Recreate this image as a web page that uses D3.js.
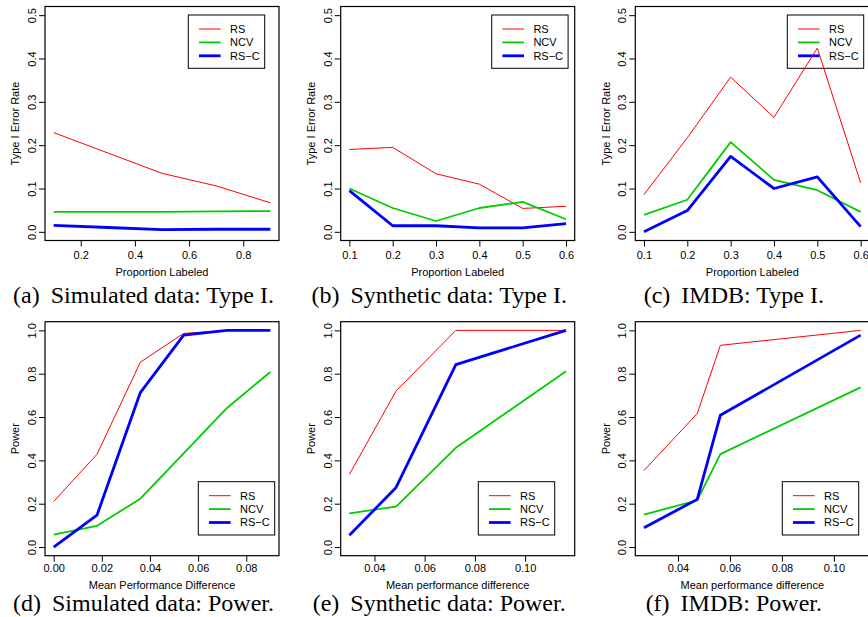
<!DOCTYPE html>
<html>
<head>
<meta charset="utf-8">
<script src="https://cdn.jsdelivr.net/npm/d3@7"></script>
<style>
  html, body { margin: 0; padding: 0; background: #fff; }
  svg { display: block; }
  text { font-family: "Liberation Sans", Arial, Helvetica, sans-serif; fill: #000; }
  .cap { font-family: "Liberation Serif", "Times New Roman", serif; }
</style>
</head>
<body>
<svg id="chart" width="868" height="617"></svg>
<script>
// ---------------- DATA ----------------
const seriesNames = ["RS", "NCV", "RS\u2212C"];

// (a) Simulated data: Type I
const aX   = [0.1, 0.3, 0.5, 0.7, 0.9];
const aRS  = [0.229, 0.182, 0.135, 0.106, 0.067];
const aNCV = [0.046, 0.046, 0.046, 0.047, 0.048];
const aRSC = [0.015, 0.010, 0.005, 0.006, 0.006];
const aTicks = [0.2, 0.4, 0.6, 0.8];

// (b) Synthetic data: Type I
const bX   = [0.1, 0.2, 0.3, 0.4, 0.5, 0.6];
const bRS  = [0.190, 0.195, 0.134, 0.110, 0.054, 0.059];
const bNCV = [0.100, 0.055, 0.025, 0.055, 0.069, 0.029];
const bRSC = [0.095, 0.014, 0.014, 0.009, 0.009, 0.019];
const bTicks = [0.1, 0.2, 0.3, 0.4, 0.5, 0.6];

// (c) IMDB: Type I
const cX   = [0.1, 0.2, 0.3, 0.4, 0.5, 0.6];
const cRS  = [0.086, 0.217, 0.357, 0.264, 0.424, 0.113];
const cNCV = [0.039, 0.074, 0.207, 0.120, 0.096, 0.046];
const cRSC = [0.000, 0.049, 0.174, 0.100, 0.127, 0.012];
const cTicks = [0.1, 0.2, 0.3, 0.4, 0.5, 0.6];

// (d) Simulated data: Power
const dX   = [0, 0.018, 0.036, 0.054, 0.072, 0.09];
const dRS  = [0.210, 0.428, 0.853, 0.986, 1.0, 1.0];
const dNCV = [0.057, 0.098, 0.223, 0.432, 0.642, 0.808];
const dRSC = [0.000, 0.147, 0.713, 0.978, 1.0, 1.0];
const dTicks = [0.00, 0.02, 0.04, 0.06, 0.08];

// (e) Synthetic data: Power
const eX   = [0.0300, 0.0486, 0.0724, 0.1163];
const eRS  = [0.335, 0.720, 1.0, 1.0];
const eNCV = [0.155, 0.187, 0.458, 0.811];
const eRSC = [0.054, 0.275, 0.842, 1.0];
const eTicks = [0.04, 0.06, 0.08, 0.10];

// (f) IMDB: Power
const fX   = [0.0269, 0.0474, 0.0563, 0.1103];
const fRS  = [0.353, 0.616, 0.931, 1.0];
const fNCV = [0.150, 0.215, 0.429, 0.737];
const fRSC = [0.089, 0.220, 0.608, 0.978];
const fTicks = [0.04, 0.06, 0.08, 0.10];

const typeIYTicks = [0.0, 0.1, 0.2, 0.3, 0.4, 0.5];
const powerYTicks = [0.0, 0.2, 0.4, 0.6, 0.8, 1.0];

// ---------------- LAYOUT / STYLE ----------------
const colors = ["#FF0000", "#00CD00", "#0000FF"];
const widths = [1, 1.8, 2.8];
const BOX = 234;

const panels = [
  { x: aX, ys: [aRS, aNCV, aRSC], xt: aTicks, yt: typeIYTicks, fmtX: d3.format(".1f"), yMax: 0.5,
    xl: "Proportion Labeled", yl: "Type I Error Rate", tag: "(a)", cap: "Simulated data: Type I.",
    left: 45, top: 6.5, legX: 143.3, legY: 8.5, row: 0 },
  { x: bX, ys: [bRS, bNCV, bRSC], xt: bTicks, yt: typeIYTicks, fmtX: d3.format(".1f"), yMax: 0.5,
    xl: "Proportion Labeled", yl: "Type I Error Rate", tag: "(b)", cap: "Synthetic data: Type I.",
    left: 340.7, top: 6.5, legX: 151, legY: 8.5, row: 0 },
  { x: cX, ys: [cRS, cNCV, cRSC], xt: cTicks, yt: typeIYTicks, fmtX: d3.format(".1f"), yMax: 0.5,
    xl: "Proportion Labeled", yl: "Type I Error Rate", tag: "(c)", cap: "IMDB: Type I.",
    left: 635.3, top: 6.5, legX: 152, legY: 8.5, row: 0 },
  { x: dX, ys: [dRS, dNCV, dRSC], xt: dTicks, yt: powerYTicks, fmtX: d3.format(".2f"), yMax: 1.0,
    xl: "Mean Performance Difference", yl: "Power", tag: "(d)", cap: "Simulated data: Power.",
    left: 45, top: 321.7, legX: 153.3, legY: 160, row: 1 },
  { x: eX, ys: [eRS, eNCV, eRSC], xt: eTicks, yt: powerYTicks, fmtX: d3.format(".2f"), yMax: 1.0,
    xl: "Mean performance difference", yl: "Power", tag: "(e)", cap: "Synthetic data: Power.",
    left: 340.7, top: 321.7, legX: 137.6, legY: 160, row: 1 },
  { x: fX, ys: [fRS, fNCV, fRSC], xt: fTicks, yt: powerYTicks, fmtX: d3.format(".2f"), yMax: 1.0,
    xl: "Mean performance difference", yl: "Power", tag: "(f)", cap: "IMDB: Power.",
    left: 635.3, top: 321.7, legX: 147, legY: 160, row: 1 }
];

const rowText = [
  { tick: 15, title: 31.7, capBase: 302.5 },
  { tick: 12.8, title: 29.3, capBase: 611 }
];

const svg = d3.select("#chart");

panels.forEach(p => {
  const g = svg.append("g").attr("transform", `translate(${p.left},${p.top})`);
  const [x0, x1] = d3.extent(p.x);
  const xp = (x1 - x0) * 0.04;
  const x = d3.scaleLinear().domain([x0 - xp, x1 + xp]).range([0, BOX]);
  const yp = p.yMax * 0.04;
  const y = d3.scaleLinear().domain([-yp, p.yMax + yp]).range([BOX, 0]);
  const rt = rowText[p.row];

  // legend (transparent background, drawn first so lines may cross it as in R output)
  const lg = g.append("g").attr("transform", `translate(${p.legX},${p.legY})`);
  lg.append("rect").attr("width", 76.4).attr("height", 53.3)
    .attr("fill", "none").attr("stroke", "#000").attr("stroke-width", 1);
  seriesNames.forEach((nm, i) => {
    const yy = 14 + i * 13.4;
    lg.append("line").attr("x1", 10.7).attr("x2", 32.3).attr("y1", yy).attr("y2", yy)
      .attr("stroke", colors[i]).attr("stroke-width", widths[i]);
    lg.append("text").attr("x", 41.7).attr("y", yy).attr("dy", "0.36em")
      .style("font-size", "11px").text(nm);
  });

  // x axis
  const xAxis = d3.axisBottom(x).tickValues(p.xt).tickFormat(p.fmtX).tickSize(6).tickSizeOuter(0);
  const gx = g.append("g").attr("transform", `translate(0,${BOX})`).call(xAxis);
  gx.select(".domain").remove();
  gx.selectAll(".tick line").attr("stroke", "#000").attr("stroke-width", 1);
  gx.selectAll(".tick text").attr("y", rt.tick).attr("dy", "0.35em")
    .style("font-size", "11px").attr("font-family", null);

  // y axis (rotated labels as in R)
  const yAxis = d3.axisLeft(y).tickValues(p.yt).tickFormat(d3.format(".1f")).tickSize(6).tickSizeOuter(0);
  const gy = g.append("g").call(yAxis);
  gy.select(".domain").remove();
  gy.selectAll(".tick line").attr("stroke", "#000").attr("stroke-width", 1);
  gy.selectAll(".tick text")
    .attr("x", null)
    .attr("text-anchor", "middle")
    .attr("transform", "translate(-12.7,0) rotate(-90)")
    .attr("dy", "0.35em")
    .style("font-size", "11px").attr("font-family", null);

  // lines
  const line = d3.line().x(d => x(d[0])).y(d => y(d[1]));
  p.ys.forEach((vals, i) => {
    g.append("path")
      .datum(p.x.map((xv, k) => [xv, vals[k]]))
      .attr("fill", "none")
      .attr("stroke", colors[i])
      .attr("stroke-width", widths[i])
      .attr("stroke-linejoin", "round")
      .attr("d", line);
  });

  // box
  g.append("rect").attr("x", 0).attr("y", 0).attr("width", BOX).attr("height", BOX)
    .attr("fill", "none").attr("stroke", "#000").attr("stroke-width", 1.2);

  // axis titles
  g.append("text").attr("x", BOX / 2).attr("y", BOX + rt.title).attr("dy", "0.35em")
    .attr("text-anchor", "middle").style("font-size", "11px").text(p.xl);
  g.append("text")
    .attr("transform", `translate(-29.5,${BOX / 2}) rotate(-90)`)
    .attr("dy", "0.35em").attr("text-anchor", "middle").style("font-size", "11px").text(p.yl);

  // caption
  const cap = svg.append("text").attr("class", "cap")
    .attr("x", p.left + BOX / 2 - 18.5).attr("y", rt.capBase)
    .attr("text-anchor", "middle").style("font-size", "24px");
  cap.append("tspan").text(p.tag + " ");
  cap.append("tspan").attr("dx", 5).text(p.cap);
});
</script>
</body>
</html>
